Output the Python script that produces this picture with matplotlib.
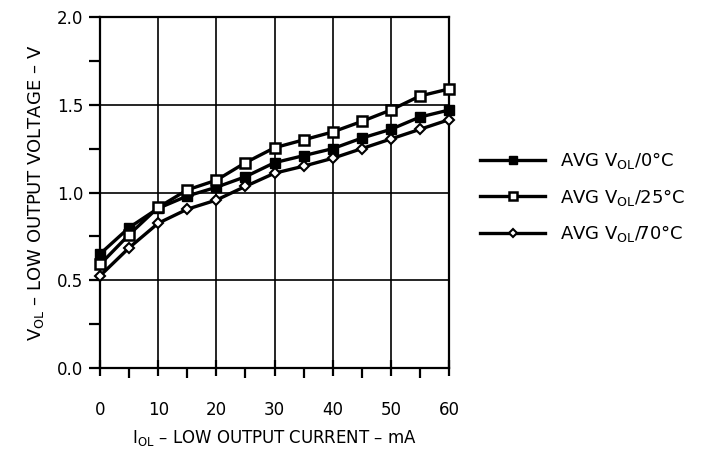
import matplotlib

matplotlib.use("Agg")
import matplotlib.pyplot as plt
from matplotlib.ticker import MultipleLocator, FormatStrFormatter

# Low output current (mA)
current_ma = [0, 5, 10, 15, 20, 25, 30, 35, 40, 45, 50, 55, 60]

# Average V_OL (V) at three temperatures
vol_0c = [0.65, 0.80, 0.91, 0.98, 1.03, 1.09, 1.17, 1.21, 1.25, 1.31, 1.36, 1.43, 1.47]
vol_25c = [0.59, 0.76, 0.915, 1.015, 1.07, 1.17, 1.255, 1.30, 1.345, 1.405, 1.47, 1.55, 1.59]
vol_70c = [0.525, 0.685, 0.825, 0.905, 0.957, 1.035, 1.11, 1.15, 1.195, 1.25, 1.305, 1.36, 1.415]

labels = [
    r"AVG V$_{\mathregular{OL}}$/0°C",
    r"AVG V$_{\mathregular{OL}}$/25°C",
    r"AVG V$_{\mathregular{OL}}$/70°C",
]

plt.rcParams["font.family"] = ["DejaVu Sans"]
plt.rcParams["mathtext.default"] = "regular"

fig = plt.figure(figsize=(7.01, 4.55), dpi=100)
ax = fig.add_axes([0.1427, 0.1912, 0.4978, 0.7714])

ax.plot(current_ma, vol_0c, "-", color="black", lw=2.4, marker="s",
        markersize=7, markerfacecolor="black", markeredgecolor="black",
        label=labels[0], zorder=3, clip_on=False)
ax.plot(current_ma, vol_25c, "-", color="black", lw=2.4, marker="s",
        markersize=7, markerfacecolor="white", markeredgecolor="black",
        markeredgewidth=1.8, label=labels[1], zorder=3, clip_on=False)
ax.plot(current_ma, vol_70c, "-", color="black", lw=2.4, marker="D",
        markersize=5, markerfacecolor="white", markeredgecolor="black",
        markeredgewidth=1.5, label=labels[2], zorder=3, clip_on=False)

ax.set_xlim(0, 60)
ax.set_ylim(0, 2.0)
ax.xaxis.set_major_locator(MultipleLocator(10))
ax.xaxis.set_minor_locator(MultipleLocator(5))
ax.yaxis.set_major_locator(MultipleLocator(0.5))
ax.yaxis.set_minor_locator(MultipleLocator(0.25))
ax.yaxis.set_major_formatter(FormatStrFormatter("%.1f"))

ax.grid(True, which="major", color="black", lw=1.2)
for s in ax.spines.values():
    s.set_linewidth(1.6)

ax.tick_params(axis="x", which="major", direction="inout", length=12,
               width=1.6, labelsize=12, pad=18)
ax.tick_params(axis="x", which="minor", direction="out", length=7, width=1.6)
ax.tick_params(axis="y", which="both", direction="out", length=8,
               width=1.6, labelsize=12, pad=4)

ax.set_xlabel(r"I$_{\mathregular{OL}}$ – LOW OUTPUT CURRENT – mA",
              fontsize=12, labelpad=6)
ax.set_ylabel(r"V$_{\mathregular{OL}}$ – LOW OUTPUT VOLTAGE – V",
              fontsize=13, labelpad=8)

ax.legend(loc="center left", bbox_to_anchor=(1.089, 0.487), frameon=False,
          fontsize=13, handlelength=3.6, handletextpad=0.85,
          labelspacing=0.85, borderpad=0, borderaxespad=0, markerscale=0.85)

fig.savefig("out.png", dpi=100)
